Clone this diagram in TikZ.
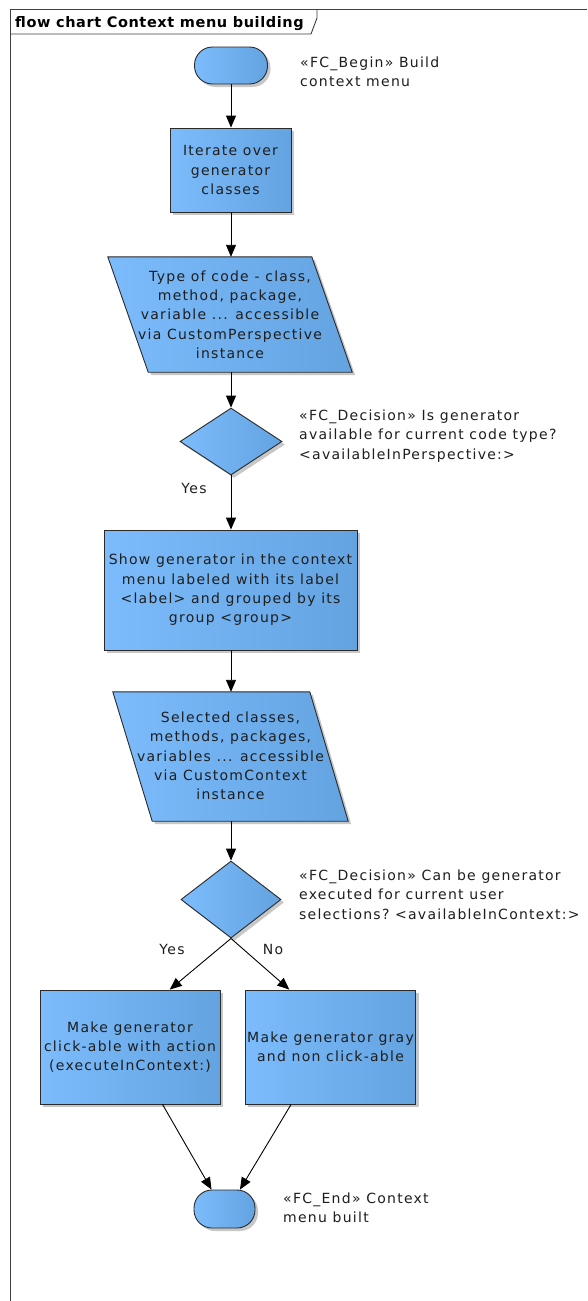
\documentclass[tikz,border=0pt]{standalone}
\usepackage{fontspec}
\usetikzlibrary{arrows.meta,shapes.geometric,shadows,calc}
\newfontfamily\umlfont[LetterSpace=9]{DejaVu Sans}
\newfontfamily\umltitle[LetterSpace=4]{DejaVu Sans}

\definecolor{umlleft}{HTML}{7CBCFC}
\definecolor{umlmid}{HTML}{84C4FF}
\definecolor{umlright}{HTML}{63A3E0}
\definecolor{umledge}{HTML}{2A2A2A}
\definecolor{umltext}{HTML}{1E1E1E}

\tikzset{
  x=1pt, y=-1pt,
  umlfill/.style={left color=umlleft, middle color=umlmid, right color=umlright,
    draw=umledge, line width=0.9pt,
    drop shadow={shadow xshift=3pt, shadow yshift=-3pt, fill=black!40, opacity=0.55}},
  actbox/.style={umlfill, rectangle, inner sep=2pt, align=center,
    font=\umlfont\fontsize{14}{19.3}\selectfont, text=umltext},
  termbox/.style={umlfill, rectangle, rounded corners=18pt, inner sep=0pt},
  decbox/.style={umlfill, diamond, inner sep=0pt},
  iobox/.style={rectangle, inner sep=0pt, align=center,
    font=\umlfont\fontsize{14}{19.3}\selectfont, text=umltext},
  note/.style={anchor=west, inner sep=0pt, align=left,
    font=\umlfont\fontsize{14}{19.3}\selectfont, text=umltext},
  guard/.style={inner sep=0pt, font=\umlfont\fontsize{14}{16}\selectfont, text=umltext},
  flow/.style={draw=black, line width=0.9pt, -{Triangle[length=12pt,width=10pt]}},
}

\begin{document}
\begin{tikzpicture}
\useasboundingbox[fill=white] (0,0) rectangle (587,1301);

% diagram frame and its name tab
\draw[line width=0.9pt, black!75] (587,9) -- (10,9) -- (10,1301);
\draw[line width=0.9pt, black!75] (10,34) -- (311,34) -- (317,18) -- (317,9);
\node[anchor=base west, inner sep=0pt, font=\umltitle\bfseries\fontsize{14.5}{16}\selectfont]
  (title) at (15,27) {flow chart Context menu building};

% start
\node[termbox, minimum width=73pt, minimum height=37pt] (start) at (231,65.5) {};
\node[note] (startlbl) at (300,72) {«FC\_Begin» Build\\context menu};

% iterate
\node[actbox, minimum width=121pt, minimum height=84pt] (iter) at (230.5,170) {Iterate over\\generator\\classes};

% input: code type
\node[iobox, minimum width=244pt, minimum height=115pt] (codetype) at (230,314.5) {};
\path[umlfill] (codetype.north west) -- ++(204,0) -- (codetype.south east) -- ++(-204,0) -- cycle;
\node[iobox] (codetypetxt) at (230,314.5) {Type of code - class,\\method, package,\\variable ... accessible\\via CustomPerspective\\instance};

% decision 1
\node[decbox, minimum width=102pt, minimum height=67pt] (dec1) at (231,441.5) {};
\node[note] (dec1lbl) at (299,436) {«FC\_Decision» Is generator\\available for current code type?\\<availableInPerspective:>};

% show generator
\node[actbox, minimum width=253pt, minimum height=120pt] (show) at (230.5,590) {Show generator in the context\\menu labeled with its label\\<label> and grouped by its\\group <group>};

% input: selection
\node[iobox, minimum width=235pt, minimum height=129pt] (selection) at (230.5,756.5) {};
\path[umlfill] (selection.north west) -- ++(197,0) -- (selection.south east) -- ++(-196,0) -- cycle;
\node[iobox] (selectiontxt) at (230.5,756) {Selected classes,\\methods, packages,\\variables ... accessible\\via CustomContext\\instance};

% decision 2
\node[decbox, minimum width=100pt, minimum height=77pt] (dec2) at (231,899.5) {};
\node[note] (dec2lbl) at (299,894.5) {«FC\_Decision» Can be generator\\executed for current user\\selections?\ <availableInContext:>};

% outcomes
\node[actbox, minimum width=180pt, minimum height=114pt] (clickable) at (130,1047) {Make generator\\click-able with action\\(executeInContext:)};
\node[actbox, minimum width=169pt, minimum height=114pt] (gray) at (330.5,1047) {Make generator gray\\and non click-able};

% end
\node[termbox, minimum width=61pt, minimum height=38pt] (end) at (224.5,1209) {};
\node[note] (endlbl) at (283,1208) {«FC\_End» Context\\menu built};

% connectors
\draw[flow] (start.south -| 231,0) -- (iter.north -| 231,0);
\draw[flow] (iter.south -| 231,0) -- (codetype.north -| 231,0);
\draw[flow] (codetype.south -| 231,0) -- (dec1.north);
\draw[flow] (dec1.south) -- (show.north -| 231,0) node[guard, pos=0.25, left=24pt] (yes1) {Yes};
\draw[flow] (show.south -| 231,0) -- (selection.north -| 231,0);
\draw[flow] (selection.south -| 231,0) -- (dec2.north);
\coordinate (intoclick) at ($(clickable.north west)!0.72!(clickable.north east)$);
\coordinate (intogray) at ($(gray.north west)!0.26!(gray.north east)$);
\draw[flow] (dec2.south) -- (intoclick);
\draw[flow] (dec2.south) -- (intogray);
\node[guard] (yes2) at (172,949) {Yes};
\node[guard] (no2) at (273,949) {No};
\draw[flow] ($(clickable.south west)!0.68!(clickable.south east)$) -- ($(end.north west)!0.29!(end.north east)$);
\draw[flow] ($(gray.south west)!0.27!(gray.south east)$) -- ($(end.north west)!0.75!(end.north east)$);
\end{tikzpicture}
\end{document}
